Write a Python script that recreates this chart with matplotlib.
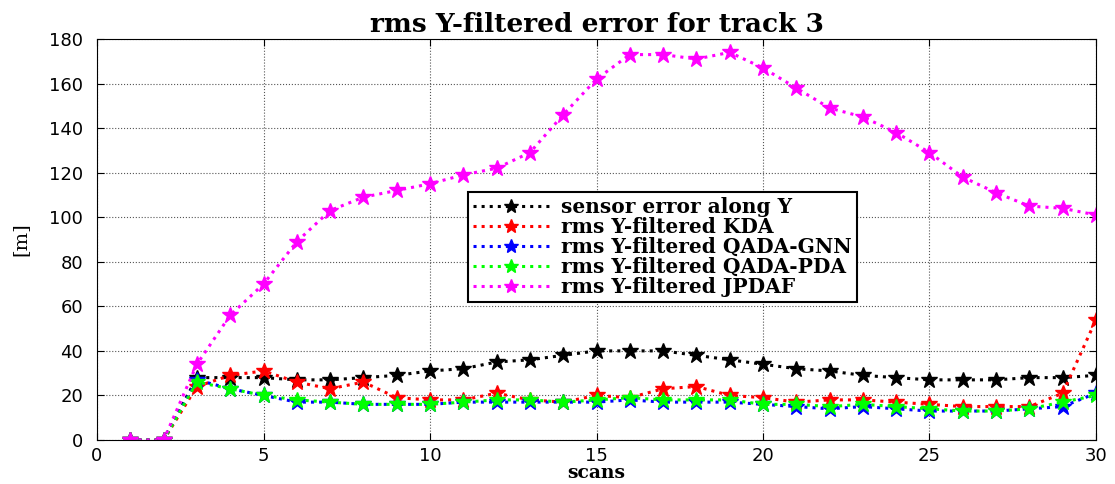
import matplotlib
matplotlib.use("Agg")
from matplotlib import pyplot as plt
import numpy as np

scans = list(range(1, 31))

sensor = [0, 0, 28, 28, 28, 27, 27, 28, 29, 31, 32, 35, 36, 38, 40,
          40, 40, 38, 36, 34, 32, 31, 29, 28, 27, 27, 27, 28, 28, 29]
kda = [0, 0, 24, 29, 31, 26, 23, 26, 19, 18, 18, 21, 18, 17, 20,
       19, 23, 24, 20, 19, 17, 18, 18, 17, 16, 15, 15, 15, 21, 54]
gnn = [0, 0, 27, 23, 20, 17, 17, 16, 16, 16, 17, 17, 17, 17, 17,
       18, 17, 17, 17, 16, 15, 14, 15, 14, 13, 13, 13, 14, 15, 21]
pda = [0, 0, 26, 23, 20, 18, 17, 16, 16, 16, 17, 18, 18, 17, 18,
       19, 18, 18, 18, 16, 16, 15, 16, 15, 14, 13, 13, 14, 17, 20]
jpdaf = [0, 0, 34, 56, 70, 89, 103, 109, 112, 115, 119, 122, 129, 146, 162,
         173, 173, 171, 174, 167, 158, 149, 145, 138, 129, 118, 111, 105, 104, 101]

series = [
    (sensor, '#000000', 'sensor error along Y'),
    (kda, '#ff0000', 'rms Y-filtered KDA'),
    (gnn, '#0000ff', 'rms Y-filtered QADA-GNN'),
    (pda, '#00ff00', 'rms Y-filtered QADA-PDA'),
    (jpdaf, '#ff00ff', 'rms Y-filtered JPDAF'),
]

serif = ['DejaVu Serif']
sans = ['DejaVu Sans']

fig = plt.figure(figsize=(11.15, 4.84), dpi=100)
ax = fig.add_axes([97 / 1115, 1 - 440 / 484, (1096 - 97) / 1115, (440 - 39) / 484])

for vals, col, lab in series:
    ax.plot(scans, vals, linestyle=':', color=col, linewidth=2.2,
            marker='*', markersize=12, markerfacecolor=col, markeredgecolor=col,
            label=lab)

ax.set_xlim(0, 30)
ax.set_ylim(0, 180)
ax.set_xticks(np.arange(0, 31, 5))
ax.set_yticks(np.arange(0, 181, 20))
ax.tick_params(direction='in', labelsize=13, length=5, top=True, right=True)
ax.tick_params(axis='y', pad=10)
ax.tick_params(axis='x', pad=5)
for lbl in ax.get_xticklabels() + ax.get_yticklabels():
    lbl.set_family(sans)
ax.grid(True, linestyle=':', color='#555555', linewidth=0.8)

ax.set_title('rms Y-filtered error for track 3', fontsize=19, fontweight='bold',
             family=serif, pad=5)
ax.set_xlabel('scans', fontsize=13.5, fontweight='bold', family=serif, labelpad=-1)
ax.set_ylabel('[m]', fontsize=14, family=serif, labelpad=14)

leg = ax.legend(loc='upper left', bbox_to_anchor=(0.371, 0.618), borderaxespad=0,
                prop={'family': serif, 'weight': 'bold', 'size': 14.5},
                frameon=True, fancybox=False, edgecolor='k', framealpha=1,
                handlelength=3.8, borderpad=0.25, labelspacing=0.0,
                handletextpad=0.6, markerscale=0.9)
leg.get_frame().set_linewidth(1.5)

fig.savefig('out.png', dpi=100)
